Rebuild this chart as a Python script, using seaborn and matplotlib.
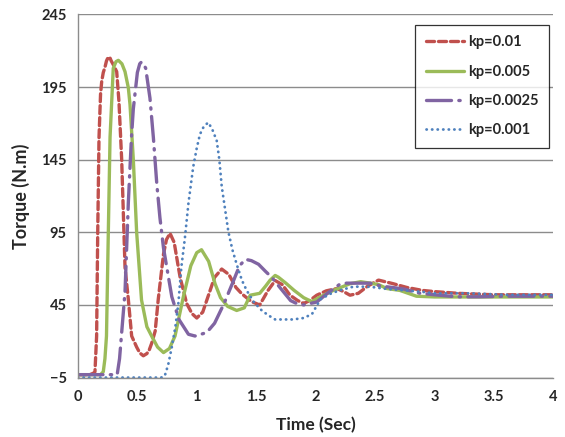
import numpy as np
import pandas as pd
import seaborn as sns
from matplotlib import pyplot as plt

# === data ===
t_01 = [0, 0.1, 0.13, 0.143, 0.157, 0.166, 0.177, 0.19, 0.2, 0.213, 0.227, 0.24, 0.255, 0.27,
        0.28, 0.3, 0.326, 0.345, 0.368, 0.396, 0.424, 0.452, 0.494, 0.52, 0.55, 0.58, 0.6,
        0.62, 0.65, 0.676, 0.7, 0.72, 0.745, 0.775, 0.81, 0.845, 0.86, 0.915, 0.96, 1.0,
        1.05, 1.1, 1.15, 1.21, 1.27, 1.33, 1.38, 1.46, 1.53, 1.6, 1.66, 1.72, 1.785, 1.85,
        1.9, 1.95, 2.01, 2.09, 2.18, 2.24, 2.29, 2.36, 2.44, 2.53, 2.65, 2.77, 2.9, 3.0,
        3.2, 3.5, 3.8, 4.0]
v_01 = [-3, -3, -2, -1, 23.6, 93, 160, 190, 199, 205, 208.6, 213, 215.7, 215,
        213, 210, 205.6, 185, 145, 71, 48.8, 23.6, 16, 12, 10, 11.5, 14,
        18.5, 27, 49, 66, 80, 90, 94.3, 88, 71, 64, 46, 39, 36,
        40, 52, 64, 69.7, 66, 57, 52.6, 47.3, 45, 55, 61.8, 59, 51.7, 48,
        46, 48, 51.7, 54.7, 56.3, 54, 51.7, 53, 58, 62.1, 59.7, 57, 55, 54.2,
        53, 52, 52, 52]

t_005 = [0, 0.19, 0.213, 0.227, 0.24, 0.255, 0.27, 0.297, 0.32, 0.34, 0.37, 0.396, 0.424,
         0.438, 0.466, 0.494, 0.535, 0.58, 0.62, 0.67, 0.72, 0.77, 0.817, 0.887, 0.95, 1.0,
         1.04, 1.1, 1.154, 1.2, 1.26, 1.336, 1.4, 1.45, 1.53, 1.58, 1.617, 1.66, 1.687, 1.75,
         1.82, 1.9, 1.968, 2.05, 2.15, 2.29, 2.38, 2.46, 2.53, 2.6, 2.71, 2.85, 3.0, 3.5, 4.0]
v_005 = [-3, -3, -1, 8, 23.6, 93, 160.4, 207.9, 212.5, 213.4, 211, 205.6, 194.5,
         183, 145, 95, 48.4, 30, 23.6, 16, 12.2, 15, 23.6, 50.6, 72, 81,
         83, 75, 59.6, 50, 44, 41.2, 43, 51.7, 53, 58, 62, 65.3, 64.1, 60,
         55, 50, 47.3, 51, 55, 59.6, 61, 60, 59, 56.3, 55, 51, 50.5, 50.5, 50.5]

t_0025 = [0, 0.33, 0.35, 0.37, 0.396, 0.424, 0.45, 0.466, 0.5, 0.52, 0.535, 0.55, 0.57,
          0.606, 0.635, 0.663, 0.69, 0.72, 0.79, 0.85, 0.93, 0.985, 1.084, 1.15, 1.23,
          1.31, 1.36, 1.41, 1.46, 1.52, 1.58, 1.63, 1.7, 1.79, 1.84, 1.9, 2.01, 2.1, 2.2,
          2.26, 2.36, 2.46, 2.55, 2.65, 2.74, 2.88, 3.0, 3.19, 3.38, 3.6, 4.0]
v_0025 = [-3, -3, 8, 28, 54, 115.5, 160, 180, 205, 211, 212.3, 211, 208,
          187.4, 160, 128.9, 105, 84.2, 50.6, 35, 24.8, 23.6, 26, 32.4, 46,
          61.8, 72, 76.4, 75.5, 73, 68, 64.1, 57, 48, 46, 45, 47, 53, 59,
          60, 60, 60, 58, 57, 56, 53, 52, 50.6, 50.6, 51, 51]

t_001 = [0, 0.7, 0.73, 0.76, 0.79, 0.82, 0.845, 0.87, 0.9, 0.93, 0.97, 1.0, 1.027, 1.06,
         1.097, 1.13, 1.168, 1.19, 1.21, 1.24, 1.266, 1.3, 1.336, 1.38, 1.42, 1.48, 1.547,
         1.6, 1.66, 1.73, 1.81, 1.9, 1.97, 2.04, 2.12, 2.2, 2.32, 2.46, 2.6, 2.75, 2.9, 3.0,
         3.3, 3.6, 4.0]
v_001 = [-5, -5, -4, 4, 16, 30, 46, 70.8, 91, 115, 140, 153, 162.5, 168,
         170.6, 166, 158.1, 145, 126.7, 110, 95.4, 83, 73, 62, 55, 47, 41.2,
         38, 35, 35, 35, 36, 38.7, 48.8, 52.5, 55, 57.6, 57.5, 56, 55, 54, 53,
         53, 52, 52]

labels = ["kp=0.01", "kp=0.005", "kp=0.0025", "kp=0.001"]
x_ticks = [0, 0.5, 1, 1.5, 2, 2.5, 3, 3.5, 4]
x_tick_labels = ["0", "0.5", "1", "1.5", "2", "2.5", "3", "3.5", "4"]
y_ticks = [-5, 45, 95, 145, 195, 245]

series = [(t_01, v_01), (t_005, v_005), (t_0025, v_0025), (t_001, v_001)]
colors = ["#C0504D", "#9BBB59", "#8064A2", "#4F81BD"]
styles = [(0, (2.4, 1.2)), "-", (0, (7.5, 2.2, 0.4, 2.2)), (0, (0.1, 1.9))]
widths = [2.4, 2.4, 2.4, 2.0]

sns.set_style("white")
plt.rcParams['font.family'] = ['Lato', 'DejaVu Sans']

fig = plt.figure(figsize=(5.65, 4.37), dpi=100)
ax = fig.add_axes([0.138, 0.136, 0.841, 0.831])

for (t, v), lab, c, ls, lw in zip(series, labels, colors, styles, widths):
    df = pd.DataFrame({"t": t, "v": v})
    sns.lineplot(data=df, x="t", y="v", ax=ax, color=c, linestyle=ls, linewidth=lw,
                 label=lab, sort=False, dash_capstyle="round")

ax.set_xlim(0, 4)
ax.set_ylim(-5, 245)
ax.set_xticks(x_ticks)
ax.set_xticklabels(x_tick_labels)
ax.set_yticks(y_ticks)
ax.yaxis.grid(True, color="#8C8C8C", linewidth=1.0)
ax.xaxis.grid(False)
ax.tick_params(axis="x", length=0, labelsize=10.5, pad=9)
ax.tick_params(axis="y", length=0, labelsize=10.5, pad=8)
for lab in ax.get_xticklabels() + ax.get_yticklabels():
    lab.set_fontweight("bold")

for side in ["top", "right"]:
    ax.spines[side].set_visible(False)
for side in ["left", "bottom"]:
    ax.spines[side].set_color("#8C8C8C")
    ax.spines[side].set_linewidth(1.0)

ax.set_xlabel("Time (Sec)", fontsize=12.5, fontweight="bold", labelpad=9)
ax.set_ylabel("Torque (N.m)", fontsize=13, fontweight="bold", labelpad=8)

leg = ax.legend(loc="upper right", bbox_to_anchor=(0.984, 0.959), bbox_transform=fig.transFigure,
                frameon=True, fancybox=False, handlelength=2.6, labelspacing=1.05,
                handletextpad=0.3, borderpad=0.7, prop={"weight": "bold", "size": 10.5})
leg.get_frame().set_edgecolor("black")
leg.get_frame().set_linewidth(0.9)

fig.savefig("out.png", dpi=100)
